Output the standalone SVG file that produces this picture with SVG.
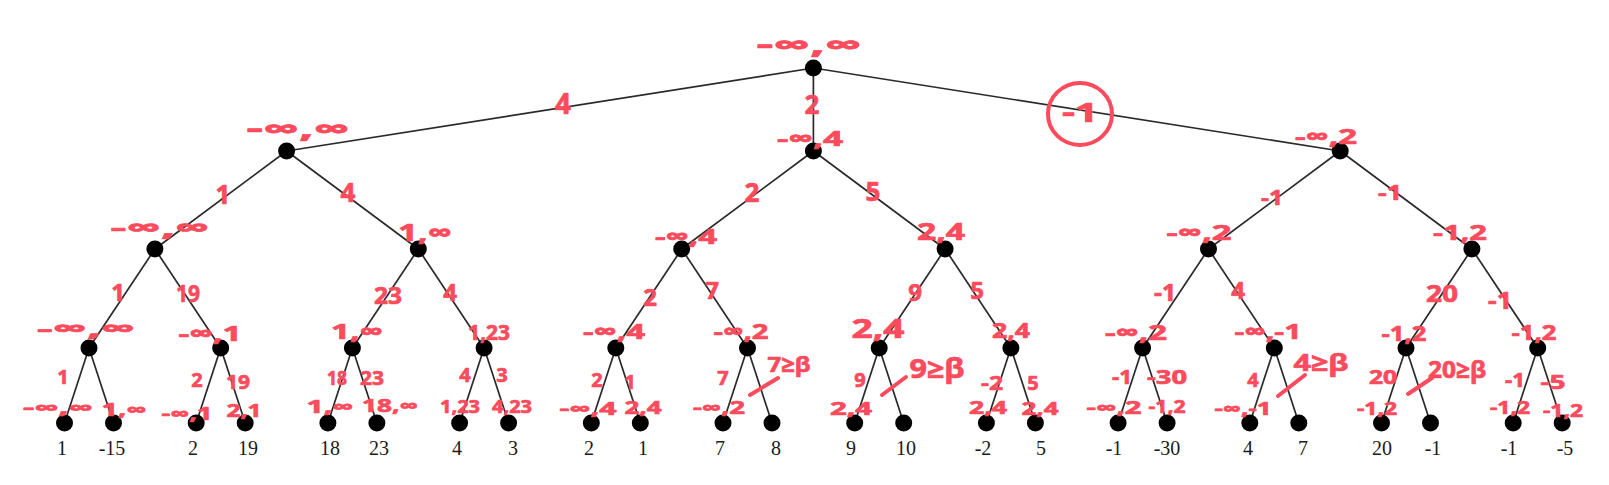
<svg xmlns="http://www.w3.org/2000/svg" width="1609" height="485" viewBox="0 0 1609 485">
<style>
.e{stroke:#2a2a2a;stroke-width:1.7;fill:none}
.d{fill:#000}
.r{fill:#fb4b5c;stroke:#fb4b5c;stroke-width:0.7;stroke-linejoin:round;font-family:"Open Sans","DejaVu Sans",sans-serif;font-weight:700;text-anchor:middle}
.s18{font-size:18px}.s20{font-size:20px}.s22{font-size:22px}.s24{font-size:24px}.s26{font-size:26px}.s28{font-size:28px}
.v{font-family:"Liberation Serif","Times New Roman",serif;font-size:20px;fill:#1a1a1a;text-anchor:middle}
.m{stroke:#fb4b5c;stroke-width:4;stroke-linecap:round;fill:none}
</style>
<rect width="1609" height="485" fill="#fff"/>
<g id="connectors">
<line class="e" x1="813.4" y1="68" x2="286.6" y2="151"/>
<line class="e" x1="813.4" y1="68" x2="813.4" y2="151"/>
<line class="e" x1="813.4" y1="68" x2="1340.2" y2="151"/>
<line class="e" x1="286.6" y1="151" x2="154.9" y2="249"/>
<line class="e" x1="286.6" y1="151" x2="418.3" y2="249"/>
<line class="e" x1="813.4" y1="151" x2="681.7" y2="249"/>
<line class="e" x1="813.4" y1="151" x2="945.1" y2="249"/>
<line class="e" x1="1340.2" y1="151" x2="1208.5" y2="249"/>
<line class="e" x1="1340.2" y1="151" x2="1471.9" y2="249"/>
<line class="e" x1="154.9" y1="249" x2="89" y2="348"/>
<line class="e" x1="154.9" y1="249" x2="220.7" y2="348"/>
<line class="e" x1="418.3" y1="249" x2="352.4" y2="348"/>
<line class="e" x1="418.3" y1="249" x2="484.1" y2="348"/>
<line class="e" x1="681.7" y1="249" x2="615.8" y2="348"/>
<line class="e" x1="681.7" y1="249" x2="747.5" y2="348"/>
<line class="e" x1="945.1" y1="249" x2="879.2" y2="348"/>
<line class="e" x1="945.1" y1="249" x2="1010.9" y2="348"/>
<line class="e" x1="1208.5" y1="249" x2="1142.6" y2="348"/>
<line class="e" x1="1208.5" y1="249" x2="1274.3" y2="348"/>
<line class="e" x1="1471.9" y1="249" x2="1406" y2="348"/>
<line class="e" x1="1471.9" y1="249" x2="1537.7" y2="348"/>
<line class="e" x1="89" y1="348" x2="64.5" y2="423"/>
<line class="e" x1="89" y1="348" x2="113.5" y2="423"/>
<line class="e" x1="220.7" y1="348" x2="196.2" y2="423"/>
<line class="e" x1="220.7" y1="348" x2="245.2" y2="423"/>
<line class="e" x1="352.4" y1="348" x2="327.9" y2="423"/>
<line class="e" x1="352.4" y1="348" x2="376.9" y2="423"/>
<line class="e" x1="484.1" y1="348" x2="459.6" y2="423"/>
<line class="e" x1="484.1" y1="348" x2="508.6" y2="423"/>
<line class="e" x1="615.8" y1="348" x2="591.3" y2="423"/>
<line class="e" x1="615.8" y1="348" x2="640.3" y2="423"/>
<line class="e" x1="747.5" y1="348" x2="723" y2="423"/>
<line class="e" x1="747.5" y1="348" x2="772" y2="423"/>
<line class="e" x1="879.2" y1="348" x2="854.7" y2="423"/>
<line class="e" x1="879.2" y1="348" x2="903.7" y2="423"/>
<line class="e" x1="1010.9" y1="348" x2="986.4" y2="423"/>
<line class="e" x1="1010.9" y1="348" x2="1035.4" y2="423"/>
<line class="e" x1="1142.6" y1="348" x2="1118.1" y2="423"/>
<line class="e" x1="1142.6" y1="348" x2="1167.1" y2="423"/>
<line class="e" x1="1274.3" y1="348" x2="1249.8" y2="423"/>
<line class="e" x1="1274.3" y1="348" x2="1298.8" y2="423"/>
<line class="e" x1="1406" y1="348" x2="1381.5" y2="423"/>
<line class="e" x1="1406" y1="348" x2="1430.5" y2="423"/>
<line class="e" x1="1537.7" y1="348" x2="1513.2" y2="423"/>
<line class="e" x1="1537.7" y1="348" x2="1562.2" y2="423"/>
<g id="edge-labels">
<text class="r s28" x="563" y="114">4</text>
<text class="r s26" x="812" y="114">2</text>
<g id="circled">
<ellipse cx="1080" cy="114" rx="32" ry="31" class="m"/>
<text class="r s26" x="1080" y="122" textLength="36" lengthAdjust="spacingAndGlyphs">-1</text>
</g>
<text class="r s26" x="223" y="204.4">1</text>
<text class="r s26" x="348" y="202.4">4</text>
<text class="r s26" x="752" y="202.4">2</text>
<text class="r s26" x="873" y="201.4">5</text>
<text class="r s22" x="1272" y="205" textLength="22" lengthAdjust="spacingAndGlyphs">-1</text>
<text class="r s22" x="1390" y="200" textLength="24" lengthAdjust="spacingAndGlyphs">-1</text>
<text class="r s24" x="118" y="300.6">1</text>
<text class="r s24" x="188" y="301.6" textLength="24" lengthAdjust="spacingAndGlyphs">19</text>
<text class="r s24" x="388" y="303.6" textLength="28" lengthAdjust="spacingAndGlyphs">23</text>
<text class="r s24" x="450" y="300.6">4</text>
<text class="r s24" x="650" y="305.6">2</text>
<text class="r s24" x="712" y="298.6">7</text>
<text class="r s24" x="915" y="300.6">9</text>
<text class="r s24" x="977" y="298.6">5</text>
<text class="r s24" x="1165" y="300.6" textLength="22" lengthAdjust="spacingAndGlyphs">-1</text>
<text class="r s24" x="1238" y="298.6">4</text>
<text class="r s24" x="1442" y="301.6" textLength="32" lengthAdjust="spacingAndGlyphs">20</text>
<text class="r s24" x="1500" y="308.6" textLength="24" lengthAdjust="spacingAndGlyphs">-1</text>
<text class="r s20" x="63" y="384">1</text>
<text class="r s20" x="197" y="387">2</text>
<text class="r s20" x="238" y="389" textLength="24" lengthAdjust="spacingAndGlyphs">19</text>
<text class="r s20" x="337" y="385" textLength="20" lengthAdjust="spacingAndGlyphs">18</text>
<text class="r s20" x="372" y="385" textLength="24" lengthAdjust="spacingAndGlyphs">23</text>
<text class="r s20" x="465" y="382">4</text>
<text class="r s20" x="502" y="382">3</text>
<text class="r s20" x="597" y="387">2</text>
<text class="r s20" x="630" y="389">1</text>
<text class="r s20" x="723" y="385">7</text>
<text class="r s20" x="860" y="387">9</text>
<text class="r s20" x="992" y="390" textLength="22" lengthAdjust="spacingAndGlyphs">-2</text>
<text class="r s20" x="1033" y="390">5</text>
<text class="r s20" x="1122" y="384" textLength="20" lengthAdjust="spacingAndGlyphs">-1</text>
<text class="r s20" x="1167" y="384" textLength="40" lengthAdjust="spacingAndGlyphs">-30</text>
<text class="r s20" x="1253" y="387">4</text>
<text class="r s20" x="1383" y="384" textLength="28" lengthAdjust="spacingAndGlyphs">20</text>
<text class="r s20" x="1515" y="387" textLength="20" lengthAdjust="spacingAndGlyphs">-1</text>
<text class="r s20" x="1553" y="389" textLength="25" lengthAdjust="spacingAndGlyphs">-5</text>
</g>
<g id="cutoffs">
<line class="m" x1="750" y1="395" x2="778" y2="378"/>
<text class="r s22" x="789" y="372" textLength="43" lengthAdjust="spacingAndGlyphs">7≥β</text>
<line class="m" x1="882" y1="395" x2="906" y2="377"/>
<text class="r s26" x="937" y="378" textLength="55" lengthAdjust="spacingAndGlyphs">9≥β</text>
<line class="m" x1="1278" y1="396" x2="1305" y2="375"/>
<text class="r s24" x="1321" y="370.6" textLength="55" lengthAdjust="spacingAndGlyphs">4≥β</text>
<line class="m" x1="1408" y1="394" x2="1432" y2="378"/>
<text class="r s24" x="1457" y="377.6" textLength="58" lengthAdjust="spacingAndGlyphs">20≥β</text>
</g>
</g>
<g id="root"><circle class="d" cx="813.4" cy="68" r="8.5"/><text class="r s26" x="809" y="54.4" textLength="105" lengthAdjust="spacingAndGlyphs">-∞,∞</text></g>
<g id="n-L"><circle class="d" cx="286.6" cy="151" r="8.5"/><text class="r s26" x="298" y="138.4" textLength="103" lengthAdjust="spacingAndGlyphs">-∞,∞</text></g>
<g id="n-M"><circle class="d" cx="813.4" cy="151" r="8.5"/><text class="r s22" x="810" y="145.5" textLength="66" lengthAdjust="spacingAndGlyphs">-∞,4</text></g>
<g id="n-R"><circle class="d" cx="1340.2" cy="151" r="8.5"/><text class="r s22" x="1326" y="144" textLength="62" lengthAdjust="spacingAndGlyphs">-∞,2</text></g>
<g id="n-LL"><circle class="d" cx="154.9" cy="249" r="8.5"/><text class="r s24" x="160" y="235.6" textLength="99" lengthAdjust="spacingAndGlyphs">-∞,∞</text></g>
<g id="n-LR"><circle class="d" cx="418.3" cy="249" r="8.5"/><text class="r s24" x="425" y="240.6" textLength="54" lengthAdjust="spacingAndGlyphs">1,∞</text></g>
<g id="n-ML"><circle class="d" cx="681.7" cy="249" r="8.5"/><text class="r s22" x="686" y="244" textLength="62" lengthAdjust="spacingAndGlyphs">-∞,4</text></g>
<g id="n-MR"><circle class="d" cx="945.1" cy="249" r="8.5"/><text class="r s24" x="941" y="239.6" textLength="48" lengthAdjust="spacingAndGlyphs">2,4</text></g>
<g id="n-RL"><circle class="d" cx="1208.5" cy="249" r="8.5"/><text class="r s22" x="1199" y="240" textLength="65" lengthAdjust="spacingAndGlyphs">-∞,2</text></g>
<g id="n-RR"><circle class="d" cx="1471.9" cy="249" r="8.5"/><text class="r s22" x="1460" y="240" textLength="54" lengthAdjust="spacingAndGlyphs">-1,2</text></g>
<g id="n3-0"><circle class="d" cx="89" cy="348" r="8.5"/><text class="r s22" x="86" y="336" textLength="98" lengthAdjust="spacingAndGlyphs">-∞,∞</text></g>
<g id="n3-1"><circle class="d" cx="220.7" cy="348" r="8.5"/><text class="r s22" x="210" y="341" textLength="63" lengthAdjust="spacingAndGlyphs">-∞,1</text></g>
<g id="n3-2"><circle class="d" cx="352.4" cy="348" r="8.5"/><text class="r s22" x="357" y="339" textLength="52" lengthAdjust="spacingAndGlyphs">1,∞</text></g>
<g id="n3-3"><circle class="d" cx="484.1" cy="348" r="8.5"/><text class="r s22" x="489" y="340" textLength="42" lengthAdjust="spacingAndGlyphs">1,23</text></g>
<g id="n3-4"><circle class="d" cx="615.8" cy="348" r="8.5"/><text class="r s22" x="614" y="339" textLength="62" lengthAdjust="spacingAndGlyphs">-∞,4</text></g>
<g id="n3-5"><circle class="d" cx="747.5" cy="348" r="8.5"/><text class="r s22" x="741" y="339" textLength="55" lengthAdjust="spacingAndGlyphs">-∞,2</text></g>
<g id="n3-6"><circle class="d" cx="879.2" cy="348" r="8.5"/><text class="r s26" x="878" y="338.4" textLength="53" lengthAdjust="spacingAndGlyphs">2,4</text></g>
<g id="n3-7"><circle class="d" cx="1010.9" cy="348" r="8.5"/><text class="r s22" x="1011" y="338" textLength="38" lengthAdjust="spacingAndGlyphs">2,4</text></g>
<g id="n3-8"><circle class="d" cx="1142.6" cy="348" r="8.5"/><text class="r s22" x="1136" y="340" textLength="62" lengthAdjust="spacingAndGlyphs">-∞,2</text></g>
<g id="n3-9"><circle class="d" cx="1274.3" cy="348" r="8.5"/><text class="r s22" x="1268" y="339" textLength="67" lengthAdjust="spacingAndGlyphs">-∞,-1</text></g>
<g id="n3-10"><circle class="d" cx="1406" cy="348" r="8.5"/><text class="r s22" x="1404" y="341" textLength="45" lengthAdjust="spacingAndGlyphs">-1,2</text></g>
<g id="n3-11"><circle class="d" cx="1537.7" cy="348" r="8.5"/><text class="r s22" x="1534" y="340" textLength="45" lengthAdjust="spacingAndGlyphs">-1,2</text></g>
<g id="leaf-0"><circle class="d" cx="64.5" cy="423" r="8.5"/><text class="r s18" x="58" y="413.5" textLength="70" lengthAdjust="spacingAndGlyphs">-∞,∞</text><text class="v" x="62" y="455">1</text></g>
<g id="leaf-1"><circle class="d" cx="113.5" cy="423" r="8.5"/><text class="r s18" x="124" y="415.5" textLength="45" lengthAdjust="spacingAndGlyphs">1,∞</text><text class="v" x="112" y="455">-15</text></g>
<g id="leaf-2"><circle class="d" cx="196.2" cy="423" r="8.5"/><text class="r s18" x="187" y="419.5" textLength="51" lengthAdjust="spacingAndGlyphs">-∞,1</text><text class="v" x="193" y="455">2</text></g>
<g id="leaf-3"><circle class="d" cx="245.2" cy="423" r="8.5"/><text class="r s18" x="244" y="416.5" textLength="35" lengthAdjust="spacingAndGlyphs">2,1</text><text class="v" x="248" y="455">19</text></g>
<g id="leaf-4"><circle class="d" cx="327.9" cy="423" r="8.5"/><text class="r s18" x="330" y="412.5" textLength="47" lengthAdjust="spacingAndGlyphs">1,∞</text><text class="v" x="330" y="455">18</text></g>
<g id="leaf-5"><circle class="d" cx="376.9" cy="423" r="8.5"/><text class="r s18" x="390" y="411.5" textLength="56" lengthAdjust="spacingAndGlyphs">18,∞</text><text class="v" x="379" y="455">23</text></g>
<g id="leaf-6"><circle class="d" cx="459.6" cy="423" r="8.5"/><text class="r s18" x="460" y="412.5" textLength="40" lengthAdjust="spacingAndGlyphs">1,23</text><text class="v" x="457" y="455">4</text></g>
<g id="leaf-7"><circle class="d" cx="508.6" cy="423" r="8.5"/><text class="r s18" x="512" y="412.5" textLength="40" lengthAdjust="spacingAndGlyphs">4,23</text><text class="v" x="513" y="455">3</text></g>
<g id="leaf-8"><circle class="d" cx="591.3" cy="423" r="8.5"/><text class="r s18" x="588" y="414.5" textLength="57" lengthAdjust="spacingAndGlyphs">-∞,4</text><text class="v" x="589" y="455">2</text></g>
<g id="leaf-9"><circle class="d" cx="640.3" cy="423" r="8.5"/><text class="r s18" x="643" y="413.5" textLength="37" lengthAdjust="spacingAndGlyphs">2,4</text><text class="v" x="643" y="455">1</text></g>
<g id="leaf-10"><circle class="d" cx="723" cy="423" r="8.5"/><text class="r s18" x="719" y="413.5" textLength="52" lengthAdjust="spacingAndGlyphs">-∞,2</text><text class="v" x="720" y="455">7</text></g>
<g id="leaf-11"><circle class="d" cx="772" cy="423" r="8.5"/><text class="v" x="776" y="455">8</text></g>
<g id="leaf-12"><circle class="d" cx="854.7" cy="423" r="8.5"/><text class="r s18" x="851" y="414.5" textLength="42" lengthAdjust="spacingAndGlyphs">2,4</text><text class="v" x="851" y="455">9</text></g>
<g id="leaf-13"><circle class="d" cx="903.7" cy="423" r="8.5"/><text class="v" x="906" y="455">10</text></g>
<g id="leaf-14"><circle class="d" cx="986.4" cy="423" r="8.5"/><text class="r s18" x="988" y="413.5" textLength="38" lengthAdjust="spacingAndGlyphs">2,4</text><text class="v" x="983" y="455">-2</text></g>
<g id="leaf-15"><circle class="d" cx="1035.4" cy="423" r="8.5"/><text class="r s18" x="1040" y="414.5" textLength="37" lengthAdjust="spacingAndGlyphs">2,4</text><text class="v" x="1041" y="455">5</text></g>
<g id="leaf-16"><circle class="d" cx="1118.1" cy="423" r="8.5"/><text class="r s18" x="1114" y="413.5" textLength="55" lengthAdjust="spacingAndGlyphs">-∞,2</text><text class="v" x="1114" y="455">-1</text></g>
<g id="leaf-17"><circle class="d" cx="1167.1" cy="423" r="8.5"/><text class="r s18" x="1167" y="412.5" textLength="37" lengthAdjust="spacingAndGlyphs">-1,2</text><text class="v" x="1167" y="455">-30</text></g>
<g id="leaf-18"><circle class="d" cx="1249.8" cy="423" r="8.5"/><text class="r s18" x="1243" y="414.5" textLength="57" lengthAdjust="spacingAndGlyphs">-∞,-1</text><text class="v" x="1248" y="455">4</text></g>
<g id="leaf-19"><circle class="d" cx="1298.8" cy="423" r="8.5"/><text class="v" x="1303" y="455">7</text></g>
<g id="leaf-20"><circle class="d" cx="1381.5" cy="423" r="8.5"/><text class="r s18" x="1377" y="414.5" textLength="40" lengthAdjust="spacingAndGlyphs">-1,2</text><text class="v" x="1382" y="455">20</text></g>
<g id="leaf-21"><circle class="d" cx="1430.5" cy="423" r="8.5"/><text class="v" x="1433" y="455">-1</text></g>
<g id="leaf-22"><circle class="d" cx="1513.2" cy="423" r="8.5"/><text class="r s18" x="1510" y="413.5" textLength="40" lengthAdjust="spacingAndGlyphs">-1,2</text><text class="v" x="1509" y="455">-1</text></g>
<g id="leaf-23"><circle class="d" cx="1562.2" cy="423" r="8.5"/><text class="r s18" x="1563" y="416.5" textLength="40" lengthAdjust="spacingAndGlyphs">-1,2</text><text class="v" x="1565" y="455">-5</text></g>
</svg>
